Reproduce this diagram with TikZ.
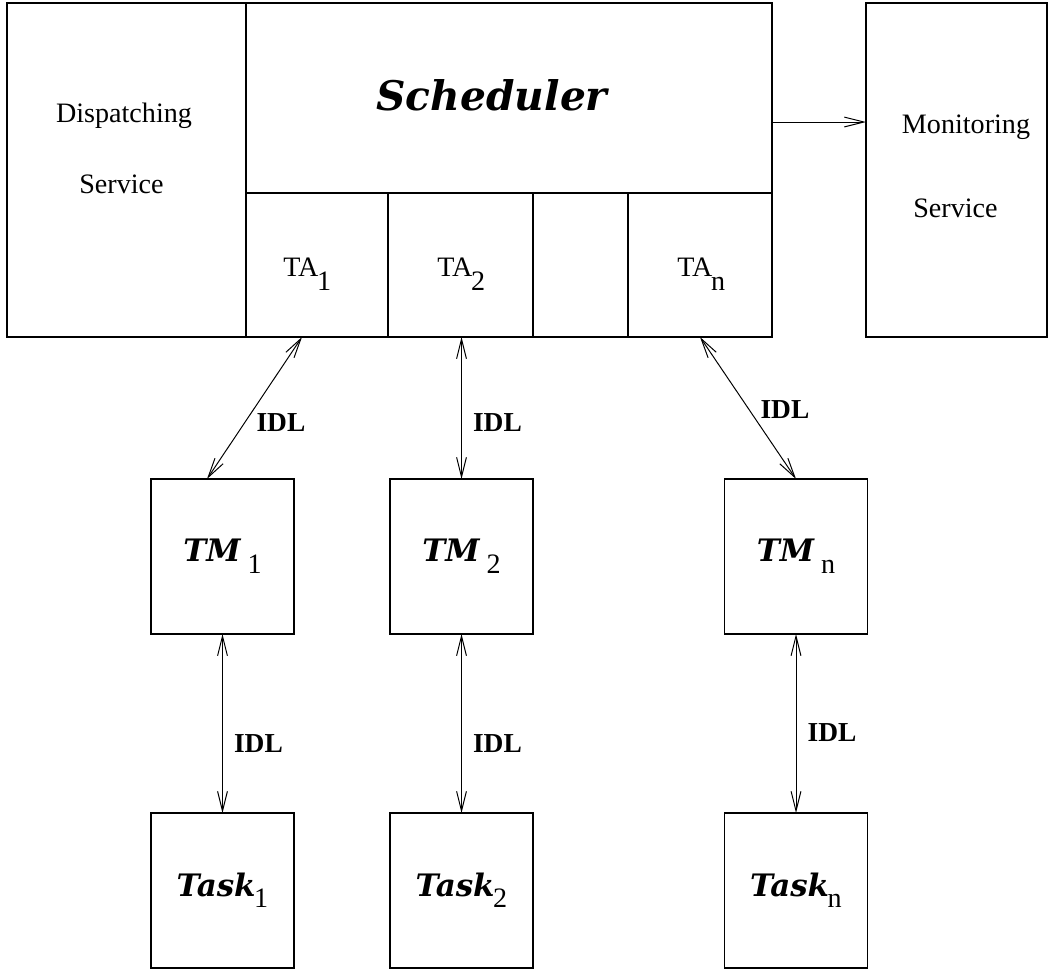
\documentclass[tikz,border=0pt]{standalone}
\usepackage{fontspec}
\setmainfont{Liberation Serif}
\newfontfamily\heavyfont{DejaVu Serif}
\usetikzlibrary{arrows.meta,calc}
\newcommand{\idx}[2][8.5pt]{\raisebox{-#1}{\normalfont\fontsize{20}{24}\selectfont #2}}

\begin{document}
\begin{tikzpicture}[x=0.25mm, y=-0.25mm, >={Straight Barb[length=14pt,width=7pt]},
    box/.style={draw, line width=0.8pt, inner sep=0pt, outer sep=0pt},
    unit/.style={box, minimum width=35.75mm, minimum height=38.75mm,
                 font=\heavyfont\bfseries\itshape\fontsize{22}{26}\selectfont},
    conn/.style={<->, line width=0.7pt},
    idl/.style={font=\fontsize{19.5}{23}\selectfont\bfseries, xshift=1.6mm},
    txt/.style={inner sep=0pt, font=\fontsize{20}{24}\selectfont}]
    \useasboundingbox (0,0) rectangle (1050,970);

    % bloco principal: despacho, escalonador e adaptadores
    \node[box, minimum width=59.75mm, minimum height=83.5mm] (dispatch) at (126.5,170) {};
    \node[box, minimum width=131.5mm, minimum height=47.5mm] (sched) at (509,98) {};
    \node[box, minimum width=35.5mm, minimum height=36mm] (ta1) at (317,265) {};
    \node[box, minimum width=36.25mm, minimum height=36mm] (ta2) at (460.5,265) {};
    \node[box, minimum width=23.75mm, minimum height=36mm] (tadots) at (580.5,265) {};
    \node[box, minimum width=36mm, minimum height=36mm] (tan) at (700,265) {};
    \node[box, minimum width=45.25mm, minimum height=83.5mm] (monitor) at (956.5,170) {};

    % textos dos blocos
    \node[txt, anchor=base] (dispA) at (124,122) {Dispatching};
    \node[txt, anchor=base] (dispB) at (121.5,193) {Service};
    \node[inner sep=0pt, anchor=base, font=\heavyfont\bfseries\itshape\fontsize{29}{34}\selectfont]
        (schedtxt) at (492,110) {Scheduler};
    \node[txt, anchor=base] (monA) at (966,133) {Monitoring};
    \node[txt, anchor=base] (monB) at (955.5,217) {Service};
    \node[txt, anchor=base west] (ta1txt) at (283,276) {TA\kern-1pt\idx[10pt]{1}};
    \node[txt, anchor=base west] (ta2txt) at (437,276) {TA\kern-1pt\idx[10pt]{2}};
    \node[txt, anchor=base west] (tantxt) at (677,276) {TA\kern-1pt\idx[10pt]{n}};

    % gerentes de tarefa e tarefas
    \node[unit] (tm1) at (222.5,556.5) {TM\hspace{5pt}\idx{1}};
    \node[unit] (tm2) at (461.5,556.5) {TM\hspace{5pt}\idx{2}};
    \node[unit] (tmn) at (796,556.5) {TM\hspace{5pt}\idx{n}};
    \node[unit] (task1) at (222.5,890.5) {Task\kern-1pt\idx[8pt]{1}};
    \node[unit] (task2) at (461.5,890.5) {Task\kern-1pt\idx[8pt]{2}};
    \node[unit] (taskn) at (796,890.5) {Task\kern-1pt\idx[8pt]{n}};

    % ligações IDL
    \draw[conn] ($(ta1.south)+(-15,0)$) -- node[idl, right, pos=0.6] {IDL} ($(tm1.north)+(-15.5,0)$);
    \draw[conn] (tm2.north |- ta2.south) -- node[idl, right, pos=0.6] {IDL} (tm2.north);
    \draw[conn] (tan.south) -- node[idl, right, pos=0.51] {IDL} (tmn.north);
    \draw[conn] (tm1.south) -- node[idl, right, pos=0.61] {IDL} (task1.north);
    \draw[conn] (tm2.south) -- node[idl, right, pos=0.61] {IDL} (task2.north);
    \draw[conn] (tmn.south) -- node[idl, right, pos=0.55] {IDL} (taskn.north);

    % escalonador -> monitoramento
    \coordinate (schedout) at ($(sched.east)+(0,24)$);
    \draw[->, line width=0.7pt] (schedout) -- (schedout -| monitor.west);
\end{tikzpicture}
\end{document}
